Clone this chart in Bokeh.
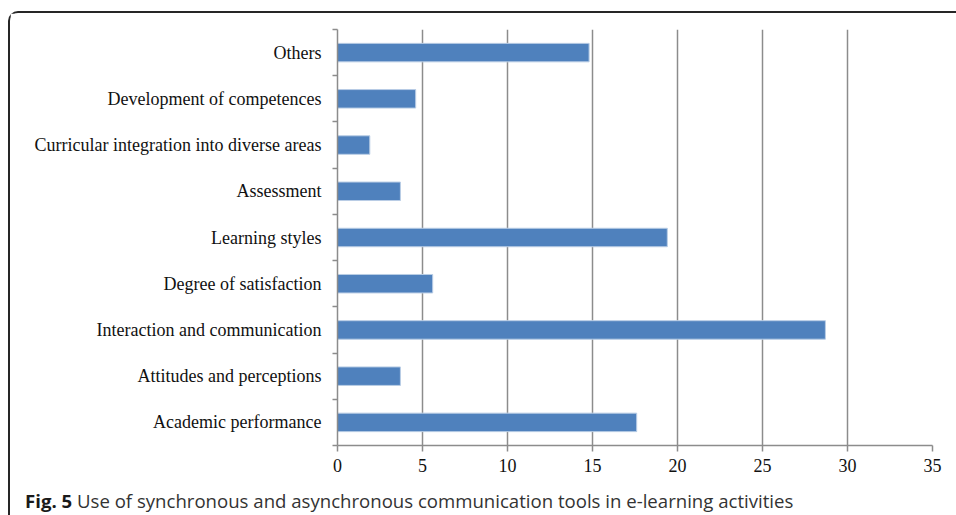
from bokeh.plotting import figure
from bokeh.models import Range1d, FixedTicker, Div
from bokeh.layouts import column
from bokeh.embed import file_html
from bokeh.resources import INLINE

categories = [
    "Academic performance",
    "Attitudes and perceptions",
    "Interaction and communication",
    "Degree of satisfaction",
    "Learning styles",
    "Assessment",
    "Curricular integration into diverse areas",
    "Development of competences",
    "Others",
]
values = [17.6, 3.7, 28.7, 5.6, 19.4, 3.7, 1.9, 4.6, 14.8]
x_ticks = [0, 5, 10, 15, 20, 25, 30, 35]
caption_bold = "Fig. 5"
caption_text = "Use of synchronous and asynchronous communication tools in e-learning activities"

n = len(categories)
centers = [i + 0.5 for i in range(n)]
bounds = list(range(n + 1))

GRID = "#8c8c8c"
SERIF = "Liberation Serif"

p = figure(
    width=946, height=472,
    x_range=Range1d(x_ticks[0], x_ticks[-1]), y_range=Range1d(0, n),
    output_backend="svg", toolbar_location=None,
    min_border_left=327, min_border_right=24, min_border_top=16, min_border_bottom=40,
)
p.outline_line_color = None
p.background_fill_color = "white"
p.border_fill_color = "white"

p.hbar(y=centers, right=values, left=0, height=0.4,
       fill_color="#4f81bd", line_color="#b9cde5", line_width=1)

# x axis
p.xaxis.ticker = FixedTicker(ticks=x_ticks)
p.xaxis.axis_line_color = GRID
p.xaxis.axis_line_width = 1.5
p.xaxis.major_tick_line_color = GRID
p.xaxis.major_tick_line_width = 1.5
p.xaxis.major_tick_out = 6
p.xaxis.major_tick_in = 0
p.xaxis.minor_tick_line_color = None
p.xaxis.major_label_standoff = 7
p.xaxis.major_label_text_font = SERIF
p.xaxis.major_label_text_font_size = "18px"
p.xaxis.major_label_text_color = "#111111"

# y axis
p.yaxis.ticker = FixedTicker(ticks=centers, minor_ticks=bounds)
p.yaxis.major_label_overrides = {c: name for c, name in zip(centers, categories)}
p.yaxis.axis_line_color = GRID
p.yaxis.axis_line_width = 1.5
p.yaxis.major_tick_out = 0
p.yaxis.major_tick_in = 0
p.yaxis.minor_tick_line_color = GRID
p.yaxis.minor_tick_line_width = 1.5
p.yaxis.minor_tick_out = 5
p.yaxis.minor_tick_in = 0
p.yaxis.major_label_standoff = 11
p.yaxis.major_label_text_font = SERIF
p.yaxis.major_label_text_font_size = "18px"
p.yaxis.major_label_text_color = "#111111"

p.xgrid.ticker = FixedTicker(ticks=x_ticks[1:])
p.xgrid.grid_line_color = GRID
p.xgrid.grid_line_width = 1.5
p.ygrid.grid_line_color = None

caption = Div(
    text=f'<b style="color:#1a1a1a">{caption_bold}</b> {caption_text}',
    width=946, height=30,
    styles={
        "font-family": "'Open Sans', sans-serif",
        "font-size": "18.6px",
        "color": "#333333",
        "padding-left": "10px",
        "white-space": "nowrap",
        "line-height": "22px",
    },
)

layout = column(
    p, caption,
    styles={
        "margin-left": "8px",
        "margin-top": "11px",
        "border-left": "2px solid #262626",
        "border-top": "2px solid #262626",
        "border-top-left-radius": "10px",
        "box-sizing": "content-box",
        "background-color": "white",
    },
)

open("out.html", "w").write(file_html(layout, INLINE))
